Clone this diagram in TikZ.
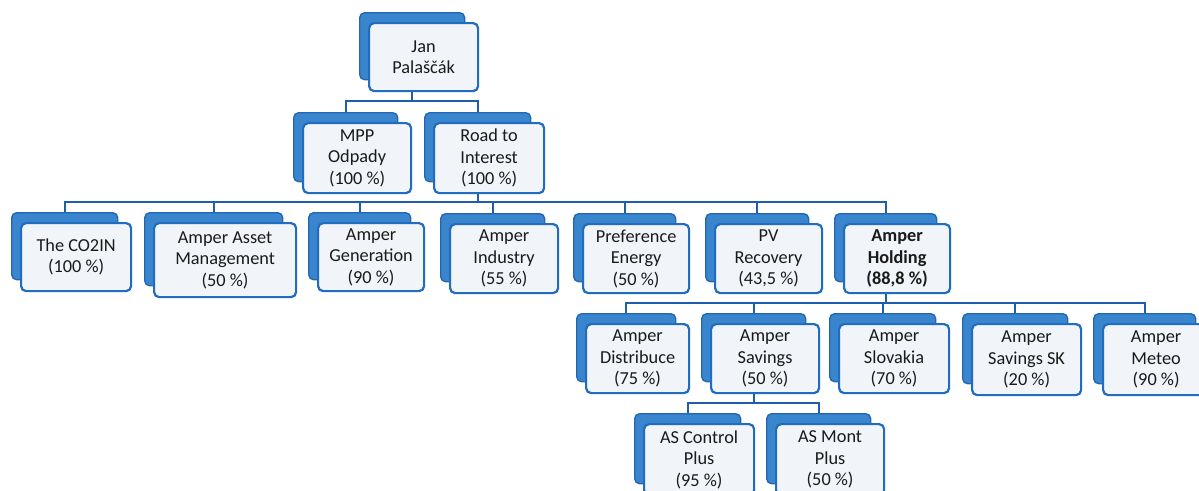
\documentclass[tikz,border=0pt]{standalone}
\usepackage{fontspec}
\setmainfont{Carlito}
\usetikzlibrary{calc}
\definecolor{backblue}{HTML}{3A86CE}
\definecolor{backedge}{HTML}{2466B2}
\definecolor{frontedge}{HTML}{1F6CC0}
\definecolor{frontfill}{HTML}{F1F4F8}
\definecolor{connblue}{HTML}{1F5EAE}
\definecolor{txt}{HTML}{1A1A1A}
\tikzset{
  frontbox/.style={draw=frontedge, fill=frontfill, line width=2.2pt, rounded corners=5pt,
    inner sep=0pt, align=center, text=txt, font=\fontsize{18.3}{21.5}\selectfont},
  backbox/.style={draw=backedge, fill=backblue, line width=1.4pt, rounded corners=5pt, inner sep=0pt},
  conn/.style={draw=connblue, line width=2pt},
}
% name, x1, y1, x2, y2 (front box, pixel coords), text
\newcommand\orgnode[6]{%
  \node[backbox, anchor=north west, minimum width={(#4-#2-4)*1pt}, minimum height={(#5-#3-1)*1pt}]
    (#1b) at (#2-9,#3-10) {};
  \node[frontbox, anchor=north west, minimum width={(#4-#2)*1pt}, minimum height={(#5-#3)*1pt}]
    (#1) at (#2,#3) {#6};
}
\begin{document}
\begin{tikzpicture}[x=1pt,y=-1pt]
\useasboundingbox (0,0) rectangle (1199,490);
\fill[white] (0,0) rectangle (1199,490);
\clip (0,0) rectangle (1199,490);

\orgnode{jan}{368}{22}{477}{90}{Jan\\Palaščák}
\orgnode{mpp}{302}{122}{410}{192}{MPP\\Odpady\\(100 \%)}
\orgnode{road}{433}{122}{543}{192}{Road to\\Interest\\(100 \%)}

\orgnode{co2}{20}{222}{130}{290}{The CO2IN\\(100 \%)}
\orgnode{aam}{153}{222}{295}{296}{Amper Asset\\Management\\(50 \%)}
\orgnode{gen}{317}{222}{423}{290}{Amper\\Generation\\(90 \%)}
\orgnode{ind}{449}{223}{557}{292}{Amper\\Industry\\(55 \%)}
\orgnode{pref}{582}{223}{688}{292}{Preference\\Energy\\(50 \%)}
\orgnode{pv}{714}{223}{821}{292}{PV\\Recovery\\(43,5 \%)}
\orgnode{hold}{843}{223}{949}{292}{\textbf{Amper}\\\textbf{Holding}\\\textbf{(88,8 \%)}}

\orgnode{dist}{585}{323}{688}{392}{Amper\\Distribuce\\(75 \%)}
\orgnode{sav}{710}{323}{818}{392}{Amper\\Savings\\(50 \%)}
\orgnode{slo}{838}{323}{948}{392}{Amper\\Slovakia\\(70 \%)}
\orgnode{savsk}{971}{323}{1080}{394}{Amper\\Savings SK\\(20 \%)}
\orgnode{met}{1102}{323}{1208}{394}{Amper\\Meteo\\(90 \%)}

\orgnode{asc}{643}{423}{753}{494}{AS Control\\Plus\\(95 \%)}
\orgnode{asm}{775}{423}{883}{494}{AS Mont\\Plus\\(50 \%)}

\coordinate (bus1) at (0,101);
\coordinate (bus2) at (0,202);
\coordinate (bus3) at (0,303);
\coordinate (bus4) at (0,403);

\foreach \c in {mpp,road}
  \draw[conn] (janb.center |- jan.south) |- (\c b.center |- bus1) -- (\c b.north);
\foreach \c in {co2,aam,gen,ind,pref,pv,hold}
  \draw[conn] (roadb.center |- road.south) |- (\c b.center |- bus2) -- (\c b.north);
\foreach \c in {dist,sav,slo,savsk,met}
  \draw[conn] (holdb.center |- hold.south) |- (\c b.center |- bus3) -- (\c b.north);
\foreach \c in {asc,asm}
  \draw[conn] (savb.center |- sav.south) |- (\c b.center |- bus4) -- (\c b.north);
\end{tikzpicture}
\end{document}
